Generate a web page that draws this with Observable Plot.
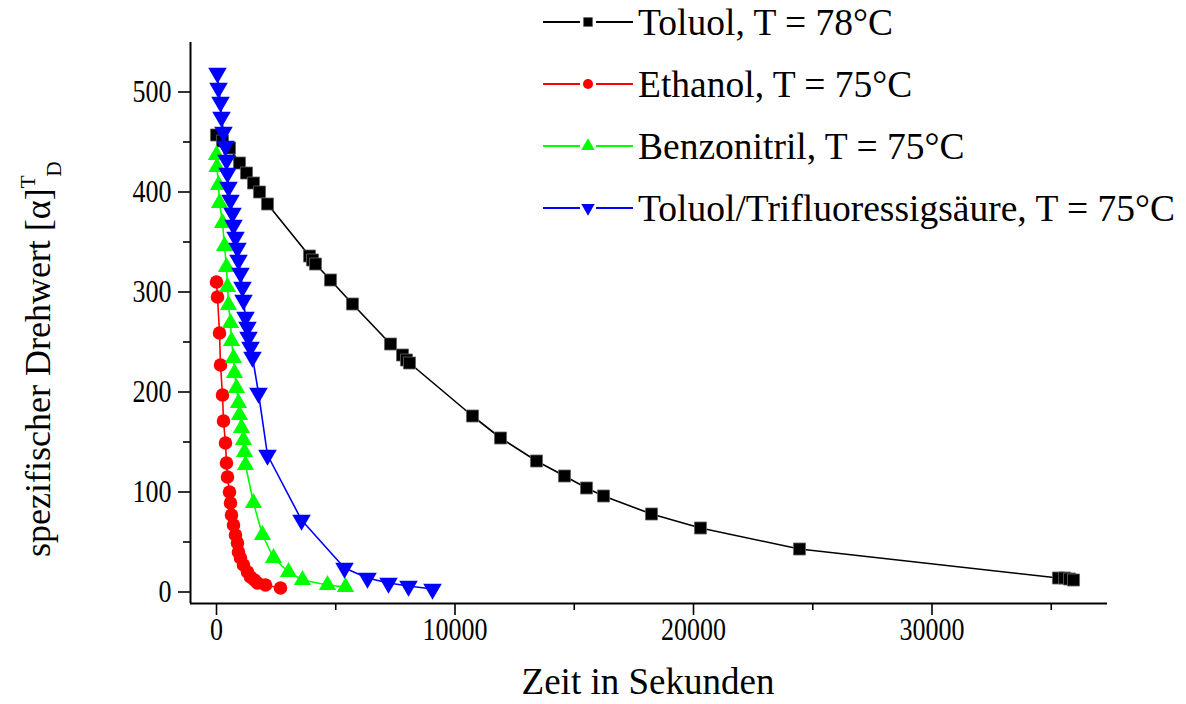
<!DOCTYPE html>
<html><head><meta charset="utf-8">
<script src="https://cdn.jsdelivr.net/npm/d3@7"></script>
<script src="https://cdn.jsdelivr.net/npm/@observablehq/plot@0.6"></script>
<style>body{margin:0;background:#fff} svg{display:block}</style>
</head><body><div id="chart"></div>
<script>
// Data (time in seconds, specific rotation)
const toluolT = [0,250,545,964,1258,1551,1803,2138,3900,4025,4150,4780,5702,7296,7800,7966,8092,10734,11908,13417,14591,15514,16226,18239,20293,24444,35300,35560,35765,35933];
const toluolA = [457,451,444,429,419,409,400,388,336,332,328,312,288,248,237,232,229,176,154,131,116,104,96,78,64,43,14,14,13,12];
const ethanolT = [0,42,126,168,252,293,377,419,461,545,587,629,713,797,880,922,1006,1132,1300,1425,1593,1719,2055,2683];
const ethanolA = [310,295,259,227,197,171,149,129,115,100,89,77,67,57,49,40,34,27,20,15,12,9,7,4];
const benzoT = [0,20,84,126,252,335,419,461,503,587,629,713,755,839,922,964,1048,1132,1174,1216,1551,1929,2390,3019,3606,4654,5409];
const benzoA = [437,425,407,389,369,346,325,305,287,269,251,234,219,204,189,177,164,152,140,127,89,57,34,20,12,7,5];
const tfaT = [42,84,168,210,293,377,419,461,503,587,671,713,797,880,922,1006,1090,1132,1216,1300,1342,1425,1509,1761,2138,3564,5367,6331,7212,8050,9057];
const tfaA = [519,504,490,475,460,446,432,419,405,392,379,367,355,344,332,319,305,292,275,265,255,245,235,199,137,72,24,14,9,6,3];

const seriesNames = ["Toluol, T = 78°C","Ethanol, T = 75°C","Benzonitril, T = 75°C","Toluol/Trifluoressigsäure, T = 75°C"];
const seriesColors = ["#000000","#ff0000","#00ff00","#0000ff"];
const xTicks = [0,10000,20000,30000];
const xMinor = [5000,15000,25000,35000];
const yTicks = [0,100,200,300,400,500];
const yMinor = [50,150,250,350,450];
const xTitle = "Zeit in Sekunden";
const yTitle = "spezifischer Drehwert [α]";

const S3 = Math.sqrt(3);
const triUp = {draw(ctx, size){const h=Math.sqrt(size/(3*S3)); ctx.moveTo(0,-2*h); ctx.lineTo(S3*h,h); ctx.lineTo(-S3*h,h); ctx.closePath();}};
const triDown = {draw(ctx, size){const h=Math.sqrt(size/(3*S3)); ctx.moveTo(0,2*h); ctx.lineTo(S3*h,-h); ctx.lineTo(-S3*h,-h); ctx.closePath();}};
const symbols = ["square","circle",triUp,triDown];
const radii = [6.8,6.8,6.4,6.9];

const mk = (T,A) => T.map((t,i)=>({t, a:A[i]}));
const series = [mk(toluolT,toluolA), mk(ethanolT,ethanolA), mk(benzoT,benzoA), mk(tfaT,tfaA)];

const xDomain = [-1090, 37358];
const yDomain = [-11.5, 549.5];

const marks = [];
series.forEach((d,i)=>{
  marks.push(Plot.line(d,{x:"t",y:"a",stroke:seriesColors[i],strokeWidth:1.6}));
  marks.push(Plot.dot(d,{x:"t",y:"a",symbol:symbols[i],r:radii[i],fill:seriesColors[i],
    stroke: i===0 ? "#666" : "none", strokeWidth: i===0 ? 0.8 : 0}));
});
marks.push(
  Plot.axisX(xTicks,{tickSize:12,tickPadding:4,tickFormat:d3.format("d"),fontSize:26,strokeWidth:1.6,label:null}),
  Plot.axisX(xMinor,{tickSize:7,tickFormat:()=>"",strokeWidth:1.6,label:null}),
  Plot.axisY(yTicks,{tickSize:12,tickPadding:7,tickFormat:d3.format("d"),fontSize:26,strokeWidth:1.6,label:null}),
  Plot.axisY(yMinor,{tickSize:7,tickFormat:()=>"",strokeWidth:1.6,label:null}),
  Plot.ruleX([xDomain[0]],{strokeWidth:2}),
  Plot.ruleY([yDomain[0]],{strokeWidth:2})
);

const ff = "'Liberation Serif', 'Times New Roman', serif";
const svgEl = Plot.plot({
  width:1186, height:704,
  marginLeft:190, marginRight:79, marginTop:42, marginBottom:101,
  style:{fontFamily:ff, background:"#fff", color:"#000"},
  x:{domain:xDomain, label:null},
  y:{domain:yDomain, label:null},
  marks
});
document.getElementById("chart").appendChild(svgEl);

const svg = d3.select(svgEl);
// slight vertical stretch of tick labels, as in the reference
svg.selectAll('g[aria-label$="tick label"] text').each(function(){
  const b = this.getBBox();
  const cy = b.y + b.height/2;
  const t = this.getAttribute("transform") || "";
  this.setAttribute("transform", `${t} translate(0,${cy}) scale(1,1.22) translate(0,${-cy})`);
});
// x title
svg.append("text").attr("x",648).attr("y",694).attr("text-anchor","middle")
  .attr("font-family",ff).attr("font-size",37).attr("fill","#000").text(xTitle);
// y title with super/subscript
const yt = svg.append("text").attr("transform","translate(50,557) rotate(-90)")
  .attr("text-anchor","start").attr("font-family",ff).attr("font-size",36).attr("fill","#000");
yt.append("tspan").text(yTitle);
yt.append("tspan").attr("font-size",21).attr("dy",-15).text("T");
yt.append("tspan").attr("font-size",21).attr("dy",26).attr("dx",-1).text("D");

// legend
const lg = svg.append("g");
seriesNames.forEach((name,i)=>{
  const cy = 22 + i*62;
  lg.append("line").attr("x1",543).attr("x2",580).attr("y1",cy).attr("y2",cy).attr("stroke",seriesColors[i]).attr("stroke-width",1.8);
  lg.append("line").attr("x1",596).attr("x2",633).attr("y1",cy).attr("y2",cy).attr("stroke",seriesColors[i]).attr("stroke-width",1.8);
  const sym = typeof symbols[i]==="string" ? (symbols[i]==="square"? d3.symbolSquare : d3.symbolCircle) : symbols[i];
  lg.append("path").attr("d", d3.symbol(sym, Math.PI*5*5)()).attr("transform",`translate(588,${cy})`)
    .attr("fill",seriesColors[i]).attr("stroke", i===0?"#666":"none").attr("stroke-width",0.8);
  lg.append("text").attr("x",638).attr("y",cy+13).attr("text-anchor","start").attr("font-family",ff)
    .attr("font-size",37.5).attr("fill","#000").text(name);
});
</script></body></html>
